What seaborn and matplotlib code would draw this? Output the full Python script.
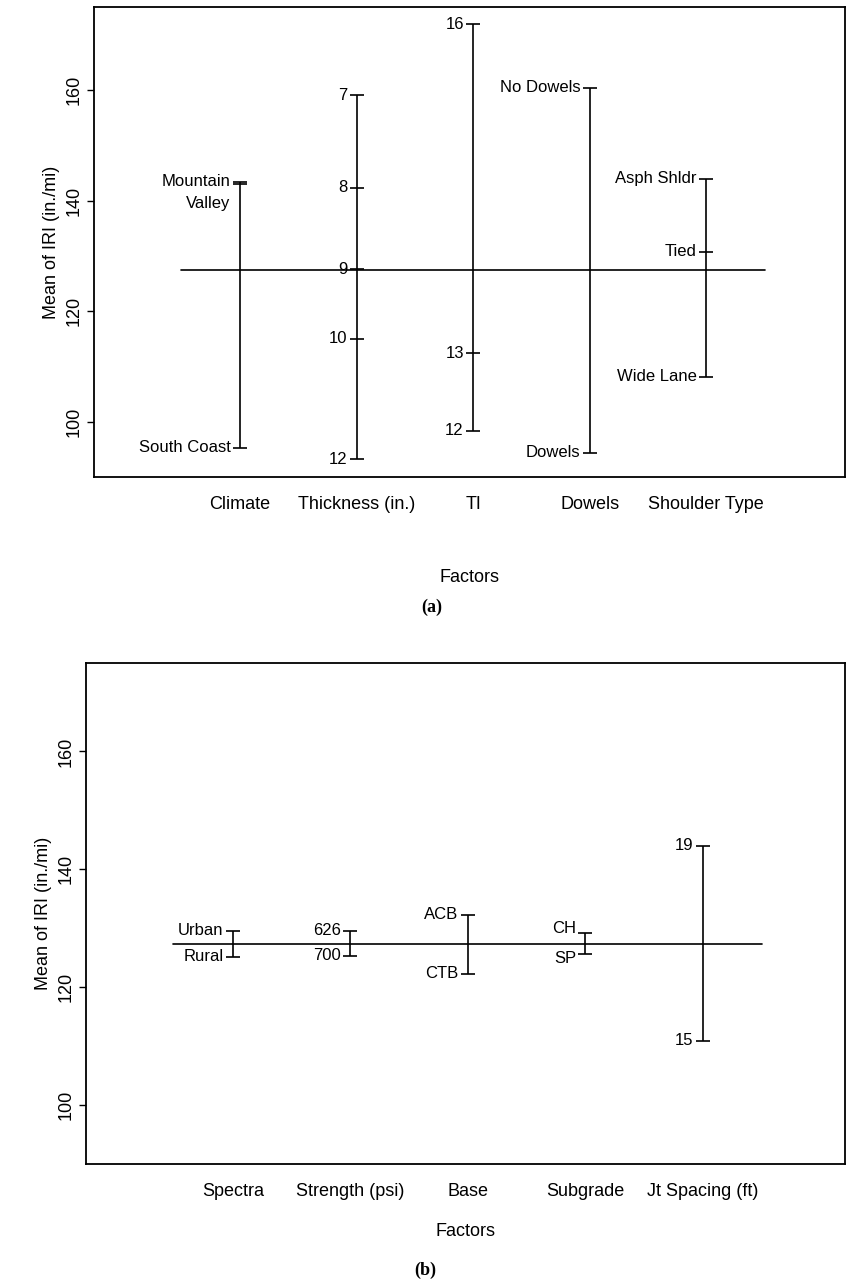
import matplotlib
matplotlib.use("Agg")
import matplotlib.pyplot as plt
import seaborn as sns
import pandas as pd

sns.set_theme(style="ticks")
plt.rcParams['font.family'] = ['Liberation Sans', 'DejaVu Sans']
plt.rcParams.update({'text.color': 'black', 'axes.labelcolor': 'black',
                     'xtick.color': 'black', 'ytick.color': 'black'})

# Panel (a)
factors_a = ["Climate", "Thickness (in.)", "TI", "Dowels", "Shoulder Type"]
levels_a = [
    ["Mountain", "Valley", "South Coast"],
    ["7", "8", "9", "10", "12"],
    ["16", "13", "12"],
    ["No Dowels", "Dowels"],
    ["Asph Shldr", "Tied", "Wide Lane"],
]
means_a = [
    [143.4, 143.0, 95.3],
    [159.0, 142.3, 127.6, 115.0, 93.2],
    [171.9, 112.4, 98.4],
    [160.4, 94.4],
    [143.9, 130.7, 108.1],
]
grand_a = 127.5

# Panel (b)
factors_b = ["Spectra", "Strength (psi)", "Base", "Subgrade", "Jt Spacing (ft)"]
levels_b = [
    ["Urban", "Rural"],
    ["626", "700"],
    ["ACB", "CTB"],
    ["CH", "SP"],
    ["19", "15"],
]
means_b = [
    [129.6, 125.2],
    [129.6, 125.3],
    [132.3, 122.3],
    [129.2, 125.6],
    [144.0, 110.9],
]
grand_b = 127.4

label_nudge = {"Valley": -14, "CH": 3, "SP": -3}

fig = plt.figure(figsize=(8.46, 12.83), dpi=100)
W, H = 846, 1283
ax_a = fig.add_axes([94 / W, 1 - 477 / H, 751 / W, 470 / H])
ax_b = fig.add_axes([86 / W, 1 - 1164 / H, 759 / W, 501 / H])


def draw(ax, factors, levels, means, grand, xlim, xlabpad):
    rows = []
    for i, (f, lv, mv) in enumerate(zip(factors, levels, means)):
        for l, m in zip(lv, mv):
            rows.append(dict(pos=i + 1, factor=f, level=l, mean=m))
    df = pd.DataFrame(rows)
    for pos, g in df.groupby("pos"):
        ax.vlines(pos, g["mean"].min(), g["mean"].max(), color="black", lw=1.2)
    ax.hlines(df["mean"], df["pos"] - 0.06, df["pos"] + 0.06, color="black", lw=1.2)
    sns.lineplot(x=[0.49, 5.5], y=[grand, grand], ax=ax, color="black", lw=1.2)
    for _, r in df.iterrows():
        ax.annotate(r["level"], (r["pos"] - 0.08, r["mean"]),
                    xytext=(0, label_nudge.get(r["level"], 0)), textcoords="offset points",
                    ha="right", va="center", fontsize=12, color="black")
    ax.set_xlim(*xlim)
    ax.set_ylim(90, 175)
    ax.set_yticks([100, 120, 140, 160])
    ax.set_yticklabels(["100", "120", "140", "160"], rotation=90, va="center", fontsize=13)
    ax.set_xticks(range(1, 6))
    ax.set_xticklabels(factors, fontsize=13)
    ax.tick_params(axis="x", length=0, pad=14)
    ax.tick_params(axis="y", length=5, width=1)
    ax.set_xlabel("Factors", fontsize=13, labelpad=xlabpad)
    ax.set_ylabel("Mean of IRI (in./mi)", fontsize=13)
    for s in ax.spines.values():
        s.set_linewidth(1.3)
        s.set_color("black")


draw(ax_a, factors_a, levels_a, means_a, grand_a, (-0.252, 6.19), 40)
draw(ax_b, factors_b, levels_b, means_b, grand_b, (-0.25, 6.21), 16)
fig.text(432 / W, 1 - 607 / H, "(a)", ha="center", va="center", fontsize=13,
         fontweight="bold", family="Liberation Serif")
fig.text(425 / W, 1 - 1270 / H, "(b)", ha="center", va="center", fontsize=13,
         fontweight="bold", family="Liberation Serif")
fig.savefig("out.png", dpi=100, facecolor="white")
